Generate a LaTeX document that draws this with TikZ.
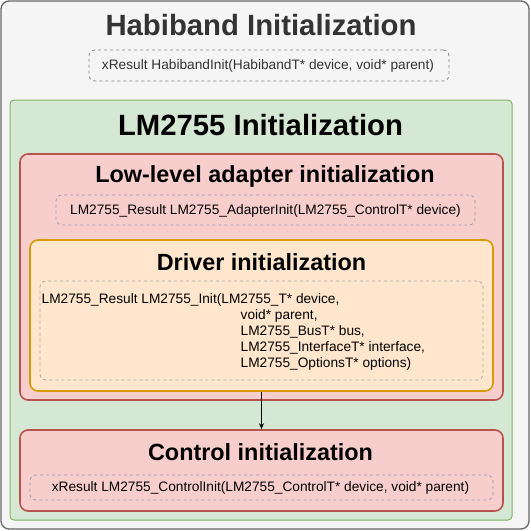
\documentclass[tikz,border=0pt]{standalone}
\usepackage{fontspec}
\setmainfont{Liberation Sans}
\usetikzlibrary{arrows.meta}

\definecolor{grayfill}{HTML}{F5F5F5}
\definecolor{graydraw}{HTML}{666666}
\definecolor{greenfill}{HTML}{D5E8D4}
\definecolor{greendraw}{HTML}{82B366}
\definecolor{redfill}{HTML}{F8CECC}
\definecolor{reddraw}{HTML}{B85450}
\definecolor{orangefill}{HTML}{FFE6CC}
\definecolor{orangedraw}{HTML}{D79B00}
\definecolor{sigdraw}{HTML}{9A9AB6}
\definecolor{darktext}{HTML}{333333}

\tikzset{
  box/.style={draw, minimum width=#1, inner sep=0pt},
  sigbox/.style={draw=sigdraw, dashed, rounded corners=6pt, line width=0.8pt, inner sep=0pt},
  bigtitle/.style={font=\bfseries\fontsize{29.3}{34}\selectfont},
  title/.style={font=\bfseries\fontsize{23.4}{28}\selectfont},
  sig/.style={font=\fontsize{13.7}{16}\selectfont, inner sep=0pt}
}

\begin{document}
\begin{tikzpicture}[x=1pt,y=-1pt]

\useasboundingbox (0,0) rectangle (531,531);

% outer habiband box
\node [draw=graydraw, fill=grayfill, line width=1.3pt, rounded corners=8pt,
  minimum width=528pt, minimum height=528pt] (hab) at (265,265) {};
\node [bigtitle, text=darktext] (habtitle) at (261,25) {Habiband Initialization};
\node [sigbox, draw=graydraw!80, minimum width=360pt, minimum height=31pt] (habsig) at (269,65.5) {};
\node [sig, text=darktext] (habtext) at (268,66) {xResult HabibandInit(HabibandT* device, void* parent)};

% LM2755 box
\node [draw=greendraw, fill=greenfill, line width=1pt, rounded corners=4pt,
  minimum width=502pt, minimum height=420pt] (lm) at (261,310) {};
\node [bigtitle] (lmtitle) at (260.5,125) {LM2755 Initialization};

% low-level adapter
\node [draw=reddraw, fill=redfill, line width=1.6pt, rounded corners=8pt,
  minimum width=483pt, minimum height=246pt] (adapter) at (261.5,277) {};
\node [title] (adtitle) at (265,176) {Low-level adapter initialization};
\node [sigbox, minimum width=419pt, minimum height=30pt] (adsig) at (265.5,210) {};
\node [sig] (adtext) at (265.5,210.5) {LM2755\_Result LM2755\_AdapterInit(LM2755\_ControlT* device)};

% driver
\node [draw=orangedraw, fill=orangefill, line width=1.6pt, rounded corners=8pt,
  minimum width=463pt, minimum height=151pt] (driver) at (261.5,315.5) {};
\node [title] (drvtitle) at (261.5,262) {Driver initialization};
\node [sigbox, draw=gray!70, minimum width=443pt, minimum height=99pt] (drvsig) at (261.5,330.5) {};
\node [sig, align=left, anchor=west] (drvtext) at (41.5,332)
  {LM2755\_Result LM2755\_Init(LM2755\_T* device,\\
   \hspace*{199pt}void* parent,\\
   \hspace*{199pt}LM2755\_BusT* bus,\\
   \hspace*{199pt}LM2755\_InterfaceT* interface,\\
   \hspace*{199pt}LM2755\_OptionsT* options)};

% control
\node [draw=reddraw, fill=redfill, line width=1.6pt, rounded corners=8pt,
  minimum width=483pt, minimum height=81pt] (control) at (261.5,470.5) {};
\node [title] (ctltitle) at (260.5,452) {Control initialization};
\node [sigbox, minimum width=463pt, minimum height=25pt] (ctlsig) at (261.5,487.5) {};
\node [sig] (ctltext) at (260.5,488) {xResult LM2755\_ControlInit(LM2755\_ControlT* device, void* parent)};

\draw [-{Stealth[length=6pt,width=5pt]}, line width=0.8pt] (driver.south) -- (control.north);

\end{tikzpicture}
\end{document}
